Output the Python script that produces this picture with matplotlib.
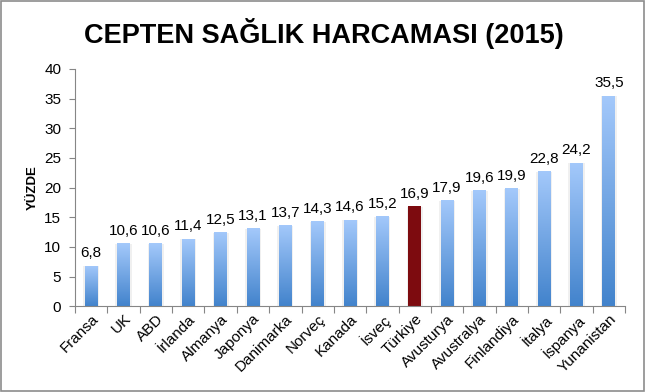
import matplotlib
matplotlib.use("Agg")
import matplotlib.pyplot as plt
import numpy as np
from matplotlib.colors import LinearSegmentedColormap
from matplotlib.patches import Rectangle

plt.rcParams['font.family'] = ['Liberation Sans', 'DejaVu Sans']

countries = ["Fransa", "UK", "ABD", "İrlanda", "Almanya", "Japonya", "Danimarka",
             "Norveç", "Kanada", "İsveç", "Türkiye", "Avusturya", "Avustralya",
             "Finlandiya", "İtalya", "İspanya", "Yunanistan"]
values = [6.8, 10.6, 10.6, 11.4, 12.5, 13.1, 13.7, 14.3, 14.6, 15.2, 16.9,
          17.9, 19.6, 19.9, 22.8, 24.2, 35.5]
highlight = "Türkiye"
yticks = [0, 5, 10, 15, 20, 25, 30, 35, 40]

fig = plt.figure(figsize=(6.47, 3.92), dpi=100)
ax = fig.add_axes([0.116, 0.219, 0.85, 0.605])

grad = LinearSegmentedColormap.from_list("g", ["#4283cc", "#a4c9fb"])
x = np.arange(len(countries))
width = 0.4
for xi, v, c in zip(x, values, countries):
    # soft shadow
    ax.add_patch(Rectangle((xi - width / 2 - 0.05, 0), width + 0.1, v - 0.1,
                           facecolor="#f0f0f0", edgecolor="none", zorder=1))
    if c == highlight:
        ax.bar(xi, v, width=width, color="#7d0b0f", zorder=2)
    else:
        bar = ax.bar(xi, v, width=width, color="none", zorder=2)[0]
        img = ax.imshow(np.linspace(0, 1, 256).reshape(-1, 1),
                        extent=[xi - width / 2, xi + width / 2, 0, v],
                        origin="lower", cmap=grad, aspect="auto", zorder=2)
        img.set_clip_path(bar)
    ax.text(xi, v + 0.9, f"{v:.1f}".replace(".", ","), ha="center", va="bottom",
            fontsize=11, color="black")

ax.set_xlim(-0.5, len(countries) - 0.5)
ax.set_ylim(0, 40)
ax.set_yticks(yticks)
ax.set_yticklabels([str(t) for t in yticks], fontsize=11)
ax.set_xticks(np.arange(len(countries) + 1) - 0.5)
ax.set_xticklabels([])
ax.set_xticks(x, minor=True)
ax.set_xticklabels(countries, minor=True, rotation=45, ha="right",
                   rotation_mode="anchor", fontsize=11)
ax.tick_params(axis="x", which="minor", length=0, pad=4)
ax.tick_params(axis="x", which="major", length=5, color="#868686")
ax.tick_params(axis="y", length=4, color="#868686", pad=6)
for s in ["top", "right"]:
    ax.spines[s].set_visible(False)
for s in ["left", "bottom"]:
    ax.spines[s].set_color("#868686")
ax.set_ylabel("YÜZDE", fontsize=9.5, fontweight="bold", labelpad=4)

fig.text(0.5, 0.915, "CEPTEN SAĞLIK HARCAMASI (2015)", ha="center", va="center",
         fontsize=19.5, fontweight="bold")

fig.patches.append(Rectangle((0.002, 0.003), 0.994, 0.994, transform=fig.transFigure,
                             fill=False, edgecolor="#8c8c8c", linewidth=1.2))

fig.savefig("out.png", dpi=100)
